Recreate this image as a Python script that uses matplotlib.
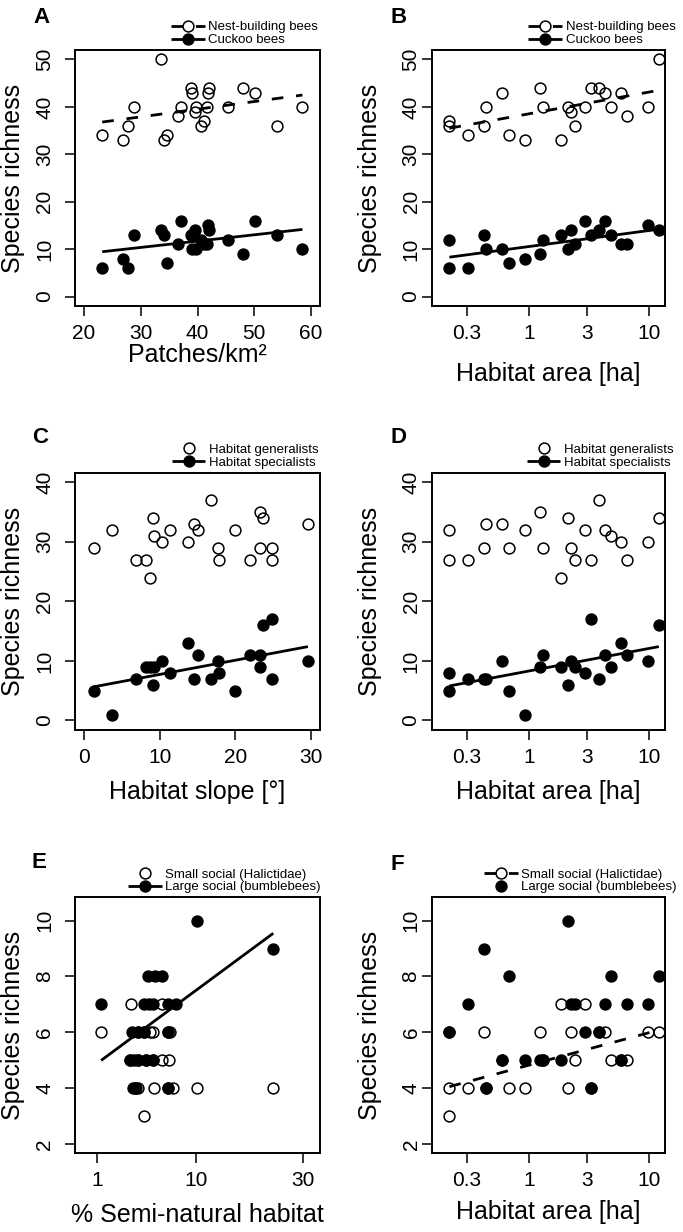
"""Species richness of bee guilds vs landscape / habitat variables (panels A-F)."""
import numpy as np
import matplotlib
matplotlib.use("Agg")
import matplotlib.pyplot as plt
from matplotlib.lines import Line2D
from matplotlib.ticker import NullLocator

plt.rcParams["font.family"] = ["Liberation Sans", "DejaVu Sans"]

# ── data ──────────────────────────────────────────────────────────────────
# A: patch density per site
patches_km2 = [23.2, 26.8, 27.8, 28.8, 33.5, 34.1, 34.7, 36.6, 37.1, 38.9, 39.0, 39.5,
               39.8, 40.7, 41.1, 41.7, 41.8, 42.0, 45.4, 48.1, 50.2, 54.1, 58.5]
nest_A   = [34, 33, 36, 40, 50, 33, 34, 38, 40, 44, 43, 39, 40, 36, 37, 40, 43, 44, 40, 44, 43, 36, 40]
cuckoo_A = [6, 8, 6, 13, 14, 13, 7, 11, 16, 13, 10, 14, 10, 12, 11, 11, 15, 14, 12, 9, 16, 13, 10]

# B, D, F: habitat area per site [ha]
habitat_area = [0.215, 0.215, 0.31, 0.419, 0.433, 0.595, 0.68, 0.925, 1.23, 1.29, 1.84, 2.11,
                2.22, 2.40, 2.93, 3.24, 3.83, 4.30, 4.79, 5.80, 6.47, 9.82, 12.0]
nest_B   = [37, 36, 34, 36, 40, 43, 34, 33, 44, 40, 33, 40, 39, 36, 40, 44, 44, 43, 40, 43, 38, 40, 50]
cuckoo_B = [12, 6, 6, 13, 10, 10, 7, 8, 9, 12, 13, 10, 14, 11, 16, 13, 14, 16, 13, 11, 11, 15, 14]
gen_D    = [32, 27, 27, 29, 33, 33, 29, 32, 35, 29, 24, 34, 29, 27, 32, 27, 37, 32, 31, 30, 27, 30, 34]
spec_D   = [8, 5, 7, 7, 7, 10, 5, 1, 9, 11, 9, 6, 10, 9, 8, 17, 7, 11, 9, 13, 11, 10, 16]
halict_F = [4, 3, 4, 6, 4, 5, 4, 4, 6, 5, 7, 4, 6, 5, 7, 4, 6, 6, 5, 5, 5, 6, 6]
bumble_F = [6, 6, 7, 9, 4, 5, 8, 5, 5, 5, 5, 10, 7, 7, 6, 4, 6, 7, 8, 5, 7, 7, 8]

# C: habitat slope per site [deg]
slope_deg = [1.28, 3.75, 6.84, 8.25, 8.69, 9.13, 9.22, 10.3, 11.4, 13.7, 14.5, 15.0,
             16.8, 17.7, 17.8, 19.9, 22.0, 23.2, 23.2, 23.7, 24.9, 24.9, 29.6]
gen_C  = [29, 32, 27, 27, 24, 34, 31, 30, 32, 30, 33, 32, 37, 29, 27, 32, 27, 35, 29, 34, 29, 27, 33]
spec_C = [5, 1, 7, 9, 9, 6, 9, 10, 8, 13, 7, 11, 7, 10, 8, 5, 11, 11, 9, 16, 17, 7, 10]

# E: % semi-natural habitat (points overlap heavily, read per guild)
seminat_halict = [1.2, 3.02, 5.89, 4.66, 4.95, 6.73, 3.63, 4.12, 6.54, 5.89, 6.65, 2.98,
                  3.58, 4.27, 4.98, 3.63, 5.08, 7.11, 10.07, 23.4, 3.36, 6.54, 4.12]
halict_E = [6, 7, 7, 6, 6, 6, 6, 6, 6, 5, 5, 5, 5, 5, 5, 4, 4, 4, 4, 4, 4, 4, 3]
seminat_bumble = [10.06, 23.4, 4.51, 5.14, 5.82, 1.2, 4.14, 4.6, 4.98, 6.47, 7.39, 3.15,
                  3.63, 4.12, 6.54, 2.98, 3.3, 3.58, 4.27, 4.98, 3.23, 3.40, 6.54]
bumble_E = [10, 9, 8, 8, 8, 7, 7, 7, 7, 7, 7, 6, 6, 6, 6, 5, 5, 5, 5, 5, 4, 4, 4]

# fitted trend lines (end points)
fit_A_nest   = ([23.2, 58.5], [36.8, 42.5])
fit_A_cuckoo = ([23.2, 58.5], [9.45, 14.15])
fit_B_nest   = ([0.215, 12.0], [35.5, 43.5])
fit_B_cuckoo = ([0.215, 12.0], [8.3, 14.2])
fit_C_spec   = ([1.28, 29.6], [5.65, 12.4])
fit_D_spec   = ([0.215, 12.0], [5.8, 12.4])
fit_E_bumble = ([1.2, 23.4], [4.99, 9.55])
fit_F_halict = ([0.215, 12.0], [4.05, 6.08])

# ── style ─────────────────────────────────────────────────────────────────
INK = "black"
W, H = 683, 1232            # output size in px (dpi 100)
MS, MEW = 7.8, 1.1          # marker size / edge width (pt)
LW = 2.0                    # trend line width (pt)
DASH = (0, (4.2, 4.6))      # dash pattern in units of LW
COLS = [(75.0, 245.0), (431.7, 233.3)]                  # left, width (px)
ROWS = [(50.0, 256.0), (472.7, 257.3), (897.3, 256.0)]  # top, height (px)


def _axes(fig, col, row):
    left, width = COLS[col]
    top, height = ROWS[row]
    return fig.add_axes([left / W, 1 - (top + height) / H, width / W, height / H])


def _points(ax, x_open, y_open, x_fill, y_fill):
    ax.plot(x_open, y_open, ls="none", marker="o", ms=MS, mfc="none", mec=INK, mew=MEW, zorder=2)
    ax.plot(x_fill, y_fill, ls="none", marker="o", ms=MS, mfc=INK, mec=INK, mew=MEW, zorder=2)


def _trend(ax, fit, dashed=False):
    ax.plot(fit[0], fit[1], color=INK, lw=LW, ls=DASH if dashed else "-",
            solid_capstyle="butt", dash_capstyle="butt", zorder=3)


def _frame(ax, col, row, xlabel, xdrop, yticks, ylim, ytick_gap):
    """Box, ticks and labels in the look of base-R plots."""
    width = COLS[col][1]
    height = ROWS[row][1]
    ax.set_ylim(*ylim)
    ax.set_yticks(yticks, [str(t) for t in yticks])
    for s in ax.spines.values():
        s.set_linewidth(1.4)
    ax.tick_params(direction="out", length=7, width=1.1, labelsize=15, colors=INK)
    ax.tick_params(axis="x", pad=6)
    ax.tick_params(axis="y", pad=ytick_gap, labelrotation=90)
    plt.setp(ax.get_yticklabels(), va="center")
    ax.set_ylabel("Species richness", fontsize=18)
    ax.yaxis.set_label_coords(-50 / width, 0.5)
    ax.set_xlabel(xlabel, fontsize=18)
    ax.xaxis.set_label_coords(0.5, -xdrop / height)


def _key(ax, col, handles, labels, handle_left_px):
    left, width = COLS[col]
    ax.legend(handles, labels, loc="lower left",
              bbox_to_anchor=((handle_left_px - left) / width, 1.015),
              frameon=False, fontsize=9.5, handlelength=2.55, handletextpad=0.28,
              labelspacing=0.05, borderpad=0, borderaxespad=0, numpoints=1)


def _letter(fig, text, x_px, base_px):
    fig.text(x_px / W, 1 - base_px / H, text, fontsize=16, fontweight="bold",
             ha="left", va="baseline")


def _log_area_axis(ax):
    ax.set_xscale("log")
    ax.set_xlim(0.153, 13.52)
    ax.set_xticks([0.3, 1, 3, 10], ["0.3", "1", "3", "10"])
    ax.xaxis.set_minor_locator(NullLocator())


open_dash = Line2D([], [], color=INK, lw=LW, ls=DASH, dash_capstyle="butt",
                   marker="o", ms=MS, mfc="none", mec=INK, mew=MEW)
fill_line = Line2D([], [], color=INK, lw=LW, solid_capstyle="butt",
                   marker="o", ms=MS, mfc=INK, mec=INK, mew=MEW)
open_only = Line2D([], [], ls="none", marker="o", ms=MS, mfc="none", mec=INK, mew=MEW)
fill_only = Line2D([], [], ls="none", marker="o", ms=MS, mfc=INK, mec=INK, mew=MEW)

fig = plt.figure(figsize=(W / 100, H / 100), dpi=100)

# ── A ──
ax = _axes(fig, 0, 0)
_points(ax, patches_km2, nest_A, patches_km2, cuckoo_A)
_trend(ax, fit_A_nest, dashed=True)
_trend(ax, fit_A_cuckoo)
ax.set_xlim(18.4, 61.6)
ax.set_xticks([20, 30, 40, 50, 60])
_frame(ax, 0, 0, "Patches/km²", 37, [0, 10, 20, 30, 40, 50], (-2, 52), 8)
_key(ax, 0, [open_dash, fill_line], ["Nest-building bees", "Cuckoo bees"], 171)
_letter(fig, "A", 33, 22.7)

# ── B ──
ax = _axes(fig, 1, 0)
_points(ax, habitat_area, nest_B, habitat_area, cuckoo_B)
_trend(ax, fit_B_nest, dashed=True)
_trend(ax, fit_B_cuckoo)
_log_area_axis(ax)
_frame(ax, 1, 0, "Habitat area [ha]", 56, [0, 10, 20, 30, 40, 50], (-2, 52), 1)
_key(ax, 1, [open_dash, fill_line], ["Nest-building bees", "Cuckoo bees"], 528.3)
_letter(fig, "B", 390, 22.7)

# ── C ──
ax = _axes(fig, 0, 1)
_points(ax, slope_deg, gen_C, slope_deg, spec_C)
_trend(ax, fit_C_spec)
ax.set_xlim(-1.2, 31.2)
ax.set_xticks([0, 10, 20, 30])
_frame(ax, 0, 1, "Habitat slope [°]", 50, [0, 10, 20, 30, 40], (-1.6, 41.6), 8)
_key(ax, 0, [open_only, fill_line], ["Habitat generalists", "Habitat specialists"], 171.7)
_letter(fig, "C", 32, 443)

# ── D ──
ax = _axes(fig, 1, 1)
_points(ax, habitat_area, gen_D, habitat_area, spec_D)
_trend(ax, fit_D_spec)
_log_area_axis(ax)
_frame(ax, 1, 1, "Habitat area [ha]", 50, [0, 10, 20, 30, 40], (-1.6, 41.6), 1)
_key(ax, 1, [open_only, fill_line], ["Habitat generalists", "Habitat specialists"], 526.7)
_letter(fig, "D", 390, 443)

# ── E (square-root x axis) ──
ax = _axes(fig, 0, 2)
_points(ax, seminat_halict, halict_E, seminat_bumble, bumble_E)
_trend(ax, fit_E_bumble)
ax.set_xscale("function", functions=(np.sqrt, np.square))
ax.set_xlim(0.279, 34.26)
ax.set_xticks([1, 10, 30], ["1", "10", "30"])
ax.xaxis.set_minor_locator(NullLocator())
_frame(ax, 0, 2, "% Semi-natural habitat", 50, [2, 4, 6, 8, 10], (1.66, 10.84), 8)
_key(ax, 0, [open_only, fill_line],
     ["Small social (Halictidae)", "Large social (bumblebees)"], 128)
_letter(fig, "E", 31.7, 868)

# ── F ──
ax = _axes(fig, 1, 2)
_points(ax, habitat_area, halict_F, habitat_area, bumble_F)
_trend(ax, fit_F_halict, dashed=True)
_log_area_axis(ax)
_frame(ax, 1, 2, "Habitat area [ha]", 47, [2, 4, 6, 8, 10], (1.66, 10.84), 1)
_key(ax, 1, [open_dash, fill_only],
     ["Small social (Halictidae)", "Large social (bumblebees)"], 484)
_letter(fig, "F", 390, 870)

fig.savefig("out.png", dpi=100, facecolor="white")
plt.close(fig)
